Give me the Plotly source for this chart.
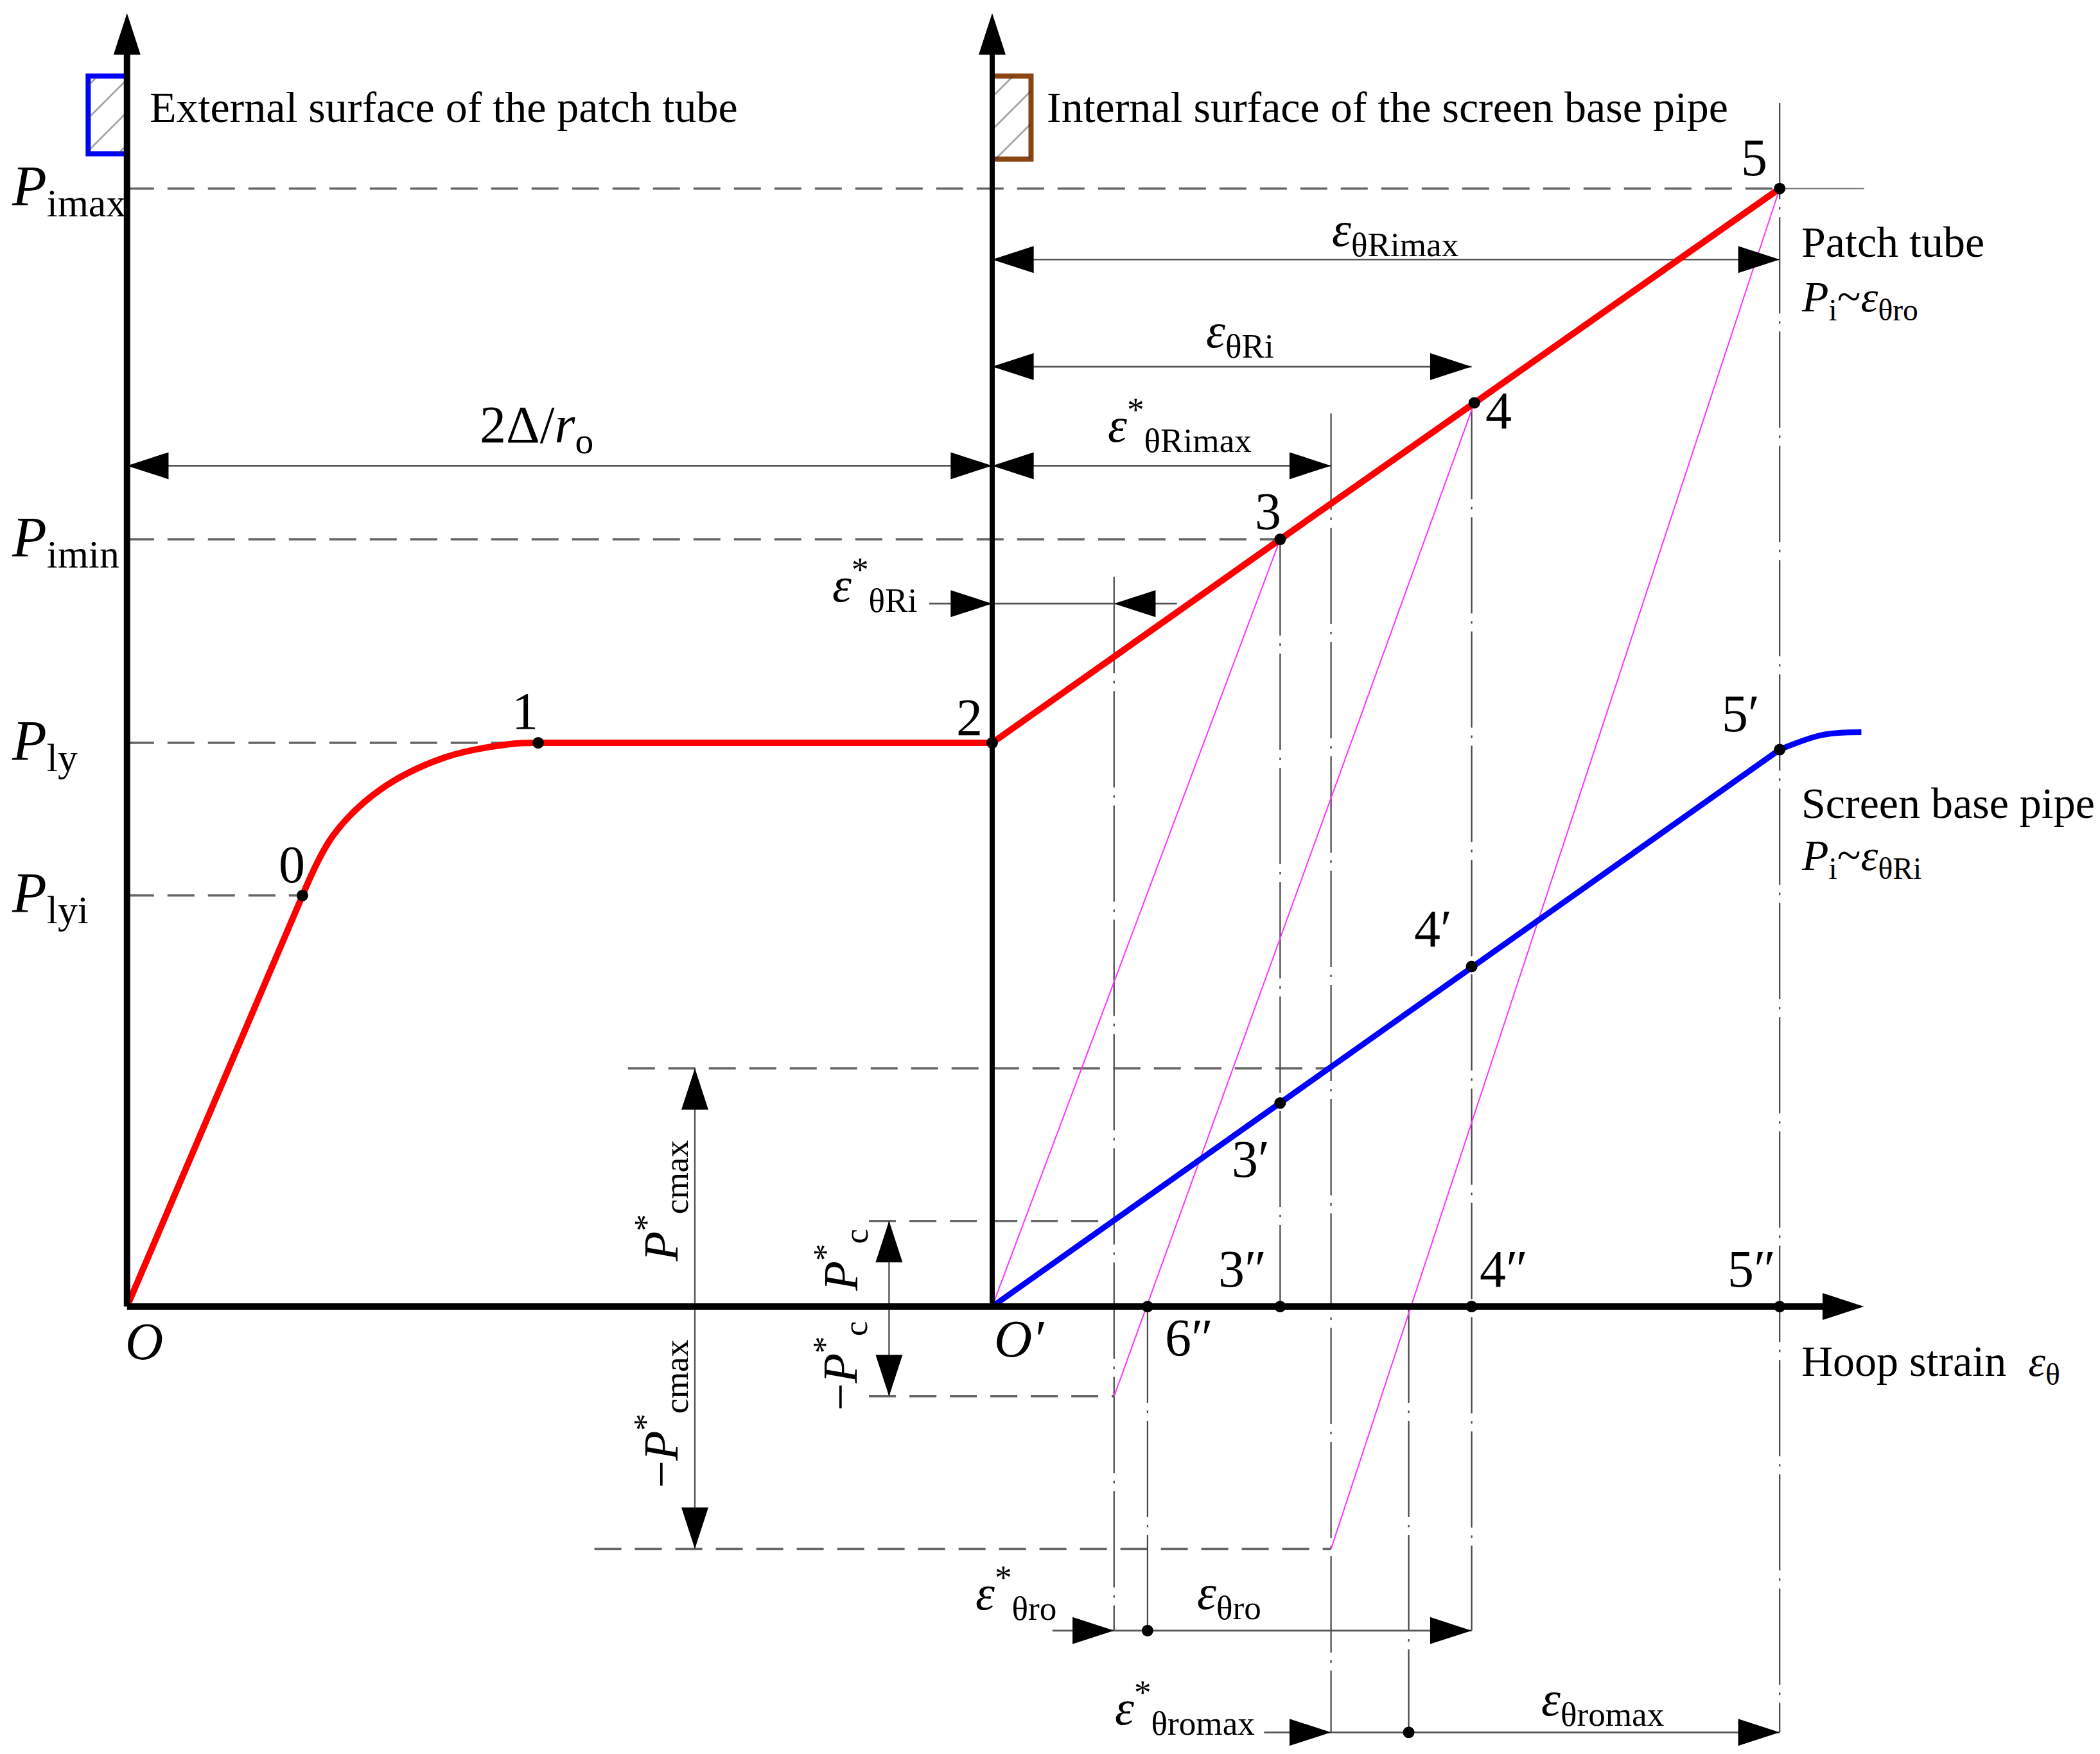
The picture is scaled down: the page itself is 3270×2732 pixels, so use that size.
"""Schematic of internal pressure vs. hoop strain for the patch tube and the
screen base pipe (loading / unloading paths)."""
import plotly.graph_objects as go

# ---------------------------------------------------------------- data ----
# Schematic units: hoop strain along x, internal pressure along y.

# Patch tube  P_i ~ eps_theta_ro : elastic O-0, knee 0-1, plateau 1-2, contact 2-5
PATCH_ELASTIC_EPS = [91, 222]
PATCH_ELASTIC_P = [0, 307]
PATCH_KNEE_EPS = [222, 245, 280, 328, 376, 398]
PATCH_KNEE_P = [307, 352, 386, 410, 420, 421]
PATCH_CONTACT_EPS = [398, 737, 952, 1097, 1325]
PATCH_CONTACT_P = [421, 421, 573, 675, 835]

PATCH_POINT_LABELS = ["0", "1", "2", "3", "4", "5"]
PATCH_POINT_EPS = [222, 398, 737, 952, 1097, 1325]
PATCH_POINT_P = [307, 421, 421, 573, 675, 835]

# Screen base pipe  P_i ~ eps_theta_Ri
SCREEN_EPS = [737, 952, 1095, 1325]
SCREEN_P = [0, 152, 254, 416]
SCREEN_TAIL_EPS = [1325, 1357, 1386]
SCREEN_TAIL_P = [416, 427, 429]
SCREEN_POINT_LABELS = ["3′", "4′", "5′"]

# Unloading lines from points 3, 4, 5
UNLOAD_FROM_EPS = [952, 1097, 1325]
UNLOAD_FROM_P = [573, 675, 835]
UNLOAD_TO_EPS = [737, 828, 990]
UNLOAD_TO_P = [0, -67, -181]

# Points on the hoop strain axis
AXIS_POINT_LABELS = ["6″", "3″", "4″", "5″"]
AXIS_POINT_EPS = [853, 952, 1095, 1325]

# Pressure levels on the left axis
P_LEVEL_NAMES = ["imax", "imin", "ly", "lyi"]
P_LEVEL_VALUES = [835, 573, 421, 307]
P_LEVEL_EPS_END = [1325, 952, 398, 222]

# Contact pressures
P_CMAX = 178
P_CMAX_NEG = -181
P_C = 64
P_C_NEG = -67

# Characteristic strains
EPS_O = 91
EPS_O_PRIME = 737
EPS_STAR_RI = 828
EPS_STAR_RIMAX = 990
EPS_RESID_6 = 853
EPS_RESID_MAX = 1048
EPS_4 = 1095
EPS_5 = 1325

# ---------------------------------------------------------------- style ---
FONT = "Liberation Serif"
BLACK = "#000000"
RED = "#ff0000"
BLUE = "#0000ff"
MAGENTA = "#ff33ff"
GREY_DASH = "#666666"
DIM = "#555555"
BROWN = "#8b4513"
TEXT_DY = 4  # small upward nudge for horizontal labels

fig = go.Figure()


def add_line(xs, ys, color, width, dash="solid", shape="linear"):
    fig.add_trace(go.Scatter(
        x=xs, y=ys, mode="lines", hoverinfo="skip",
        line={"color": color, "width": width, "dash": dash, "shape": shape}
    ))


def add_text(text, x, y, size, xanchor="center", yanchor="middle", angle=0):
    fig.add_annotation(
        x=x, y=y + (TEXT_DY if angle == 0 else 0), text=text,
        showarrow=False, xanchor=xanchor, yanchor=yanchor, textangle=angle,
        font={"family": FONT, "size": size, "color": "black"}
    )


def add_hatched_box(x0, x1, p0, p1, color, open_side_x):
    # Border on three sides (the fourth is the axis) with a hatched inside
    far_x = x0 if open_side_x == x1 else x1
    add_line([open_side_x, far_x, far_x, open_side_x], [p1, p1, p0, p0], color, 8)
    fig.add_trace(go.Scatter(
        x=[x0, x1, x1, x0, x0], y=[p1, p1, p0, p0, p1], mode="lines",
        fill="toself", fillcolor="rgba(0,0,0,0)", line={"width": 0},
        fillpattern={"shape": "/", "fgcolor": "#333333", "size": 36,
                     "solidity": 0.07},
        hoverinfo="skip"
    ))


DASH = "42px,21px"
DASHDOT = "150px,12px,4px,12px"

# Pressure level dashed lines
for p, x_end in zip(P_LEVEL_VALUES, P_LEVEL_EPS_END):
    add_line([EPS_O, x_end], [p, p], GREY_DASH, 3.5, DASH)
add_line([EPS_5, 1388], [P_LEVEL_VALUES[0]] * 2, "#777777", 2)

# Contact pressure dashed lines
add_line([465, EPS_STAR_RIMAX], [P_CMAX, P_CMAX], GREY_DASH, 3.5, DASH)
add_line([440, EPS_STAR_RIMAX], [P_CMAX_NEG, P_CMAX_NEG], GREY_DASH, 3.5, DASH)
add_line([645, EPS_STAR_RI], [P_C, P_C], GREY_DASH, 3.5, DASH)
add_line([645, EPS_STAR_RI], [P_C_NEG, P_C_NEG], GREY_DASH, 3.5, DASH)

# Vertical reference lines
ROW_RO = -242
ROW_ROMAX = -318
vlines = [
    (EPS_STAR_RI, 545, ROW_RO),
    (EPS_RESID_6, 0, ROW_RO),
    (UNLOAD_FROM_EPS[0], UNLOAD_FROM_P[0], 0),
    (EPS_STAR_RIMAX, 667, ROW_ROMAX),
    (EPS_RESID_MAX, 0, ROW_ROMAX),
    (EPS_4, UNLOAD_FROM_P[1], ROW_RO),
    (EPS_5, 899, ROW_ROMAX),
]
for x, p0, p1 in vlines:
    add_line([x, x], [p0, p1], "#444444", 2.2, DASHDOT)

# Unloading lines
for x0, p0, x1, p1 in zip(UNLOAD_FROM_EPS, UNLOAD_FROM_P, UNLOAD_TO_EPS, UNLOAD_TO_P):
    add_line([x0, x1], [p0, p1], MAGENTA, 2)

# Dimension lines
ROW_2DELTA = 628
ROW_RI = 702
ROW_RIMAX = 782
ROW_STAR_RI = 525
add_line([EPS_O, EPS_O_PRIME], [ROW_2DELTA] * 2, DIM, 2.7)
add_line([EPS_O_PRIME, EPS_STAR_RIMAX], [ROW_2DELTA] * 2, DIM, 2.7)
add_line([EPS_O_PRIME, EPS_4], [ROW_RI] * 2, DIM, 2.7)
add_line([EPS_O_PRIME, EPS_5], [ROW_RIMAX] * 2, DIM, 2.7)
add_line([690, 875], [ROW_STAR_RI] * 2, DIM, 2.7)
add_line([782, EPS_4], [ROW_RO] * 2, DIM, 2.7)
add_line([940, EPS_5], [ROW_ROMAX] * 2, DIM, 2.7)
add_line([515, 515], [P_CMAX, P_CMAX_NEG], DIM, 2.4)
add_line([660, 660], [P_C, P_C_NEG], DIM, 2.4)

# Surface icons
add_hatched_box(62, EPS_O, 861, 919, BLUE, open_side_x=EPS_O)
add_hatched_box(EPS_O_PRIME, 766, 857, 919, BROWN, open_side_x=EPS_O_PRIME)

# Curves
add_line(PATCH_ELASTIC_EPS, PATCH_ELASTIC_P, RED, 10)
add_line(PATCH_KNEE_EPS, PATCH_KNEE_P, RED, 10, shape="spline")
add_line(PATCH_CONTACT_EPS, PATCH_CONTACT_P, RED, 10)
add_line(SCREEN_EPS, SCREEN_P, BLUE, 9)
add_line(SCREEN_TAIL_EPS, SCREEN_TAIL_P, BLUE, 9, shape="spline")

# Axes
add_line([EPS_O, EPS_O], [0, 945], BLACK, 10)
add_line([EPS_O_PRIME, EPS_O_PRIME], [0, 945], BLACK, 8)
add_line([EPS_O, 1370], [0, 0], BLACK, 10)

# Arrowheads: (x, p, angle)
heads = [
    (EPS_O, 966, 0), (EPS_O_PRIME, 966, 0), (1388, 0, 90),
    (EPS_O, ROW_2DELTA, 270), (EPS_O_PRIME, ROW_2DELTA, 90),
    (EPS_O_PRIME, ROW_2DELTA, 270), (EPS_STAR_RIMAX, ROW_2DELTA, 90),
    (EPS_O_PRIME, ROW_RI, 270), (EPS_4, ROW_RI, 90),
    (EPS_O_PRIME, ROW_RIMAX, 270), (EPS_5, ROW_RIMAX, 90),
    (EPS_O_PRIME, ROW_STAR_RI, 90), (EPS_STAR_RI, ROW_STAR_RI, 270),
    (EPS_STAR_RI, ROW_RO, 90), (EPS_4, ROW_RO, 90),
    (EPS_STAR_RIMAX, ROW_ROMAX, 90), (EPS_5, ROW_ROMAX, 90),
    (515, P_CMAX, 0), (515, P_CMAX_NEG, 180),
    (660, P_C, 0), (660, P_C_NEG, 180),
]
fig.add_trace(go.Scatter(
    x=[h[0] for h in heads], y=[h[1] for h in heads], mode="markers",
    marker={"symbol": "arrow", "size": 68, "color": "black",
            "angle": [h[2] for h in heads], "line": {"width": 0}},
    hoverinfo="skip"
))

# Dots
dot_x = PATCH_POINT_EPS + SCREEN_EPS[1:] + AXIS_POINT_EPS + [EPS_RESID_6, EPS_RESID_MAX]
dot_p = PATCH_POINT_P + SCREEN_P[1:] + [0] * len(AXIS_POINT_EPS) + [ROW_RO, ROW_ROMAX]
fig.add_trace(go.Scatter(
    x=dot_x, y=dot_p, mode="markers",
    marker={"symbol": "circle", "size": 18, "color": "black"}, hoverinfo="skip"
))

# ---------------------------------------------------------------- text ----
FS_MAIN = 68
FS_NUM = 82
FS_P = 88
FS_EPS = 76

for name, p in zip(P_LEVEL_NAMES, P_LEVEL_VALUES):
    add_text(f"<i>P</i><sub>{name}</sub>", 4, p - 5, FS_P, xanchor="left")

num_offsets = [(-8, 19), (-10, 20), (-17, 15), (-9, 17), (18, -10), (-19, 19)]
for lab, x, p, (dx, dp) in zip(PATCH_POINT_LABELS, PATCH_POINT_EPS, PATCH_POINT_P, num_offsets):
    add_text(lab, x + dx, p + dp, FS_NUM)

scr_offsets = [(-22, -46), (-29, 24), (-29, 23)]
for lab, x, p, (dx, dp) in zip(SCREEN_POINT_LABELS, SCREEN_EPS[1:], SCREEN_P[1:], scr_offsets):
    add_text(lab, x + dx, p + dp, FS_NUM)

ax_offsets = [(31, -27), (-28, 24), (24, 24), (-21, 24)]
for lab, x, (dx, dp) in zip(AXIS_POINT_LABELS, AXIS_POINT_EPS, ax_offsets):
    add_text(lab, x + dx, dp, FS_NUM)

add_text("<i>O</i>", EPS_O + 13, -30, FS_NUM)
add_text("<i>O′</i>", EPS_O_PRIME + 20, -28, FS_NUM)

add_text("External surface of the patch tube", 107, 892, FS_MAIN, xanchor="left")
add_text("Internal surface of the screen base pipe", 777, 892, FS_MAIN, xanchor="left")

add_text("2Δ/<i>r</i><sub>o</sub>", 397, ROW_2DELTA + 24, FS_NUM)
add_text("<i>ε</i><sub>θRimax</sub>", 1038, ROW_RIMAX + 16, FS_EPS)
add_text("<i>ε</i><sub>θRi</sub>", 922, ROW_RI + 20, FS_EPS)
add_text("<i>ε</i><sup>*</sup><sub>θRimax</sub>", 877, ROW_2DELTA + 26, FS_EPS)
add_text("<i>ε</i><sup>*</sup><sub>θRi</sub>", 682, ROW_STAR_RI + 10, FS_EPS, xanchor="right")
add_text("<i>ε</i><sup>*</sup><sub>θro</sub>", 786, ROW_RO + 24, FS_EPS, xanchor="right")
add_text("<i>ε</i><sub>θro</sub>", 914, ROW_RO + 22, FS_EPS)
add_text("<i>ε</i><sup>*</sup><sub>θromax</sub>", 934, ROW_ROMAX + 14, FS_EPS, xanchor="right")
add_text("<i>ε</i><sub>θromax</sub>", 1193, ROW_ROMAX + 18, FS_EPS)

add_text("Patch tube", 1340, 791, FS_MAIN, xanchor="left")
add_text("<i>P</i><sub>i</sub>~<i>ε</i><sub>θro</sub>", 1340, 748, FS_MAIN, xanchor="left")
add_text("Screen base pipe", 1340, 372, FS_MAIN, xanchor="left")
add_text("<i>P</i><sub>i</sub>~<i>ε</i><sub>θRi</sub>", 1340, 331, FS_MAIN, xanchor="left")
add_text("Hoop strain\u00a0\u00a0<i>ε</i><sub>θ</sub>", 1340, -47, FS_MAIN, xanchor="left")

add_text("<i>P</i><sup>*</sup><sub>cmax</sub>", 490, 79, FS_EPS, angle=-90)
add_text("−<i>P</i><sup>*</sup><sub>cmax</sub>", 490, -80, FS_EPS, angle=-90)
add_text("<i>P</i><sup>*</sup><sub>c</sub>", 624, 35, FS_EPS, angle=-90)
add_text("−<i>P</i><sup>*</sup><sub>c</sub>", 624, -44, FS_EPS, angle=-90)

fig.update_layout(
    width=3270, height=2732,
    margin={"l": 0, "r": 0, "t": 0, "b": 0},
    paper_bgcolor="white", plot_bgcolor="white",
    showlegend=False,
    xaxis={"visible": False, "range": [0, 1568]},
    yaxis={"visible": False, "range": [-338, 972]},
)

fig.write_html("out.html")
